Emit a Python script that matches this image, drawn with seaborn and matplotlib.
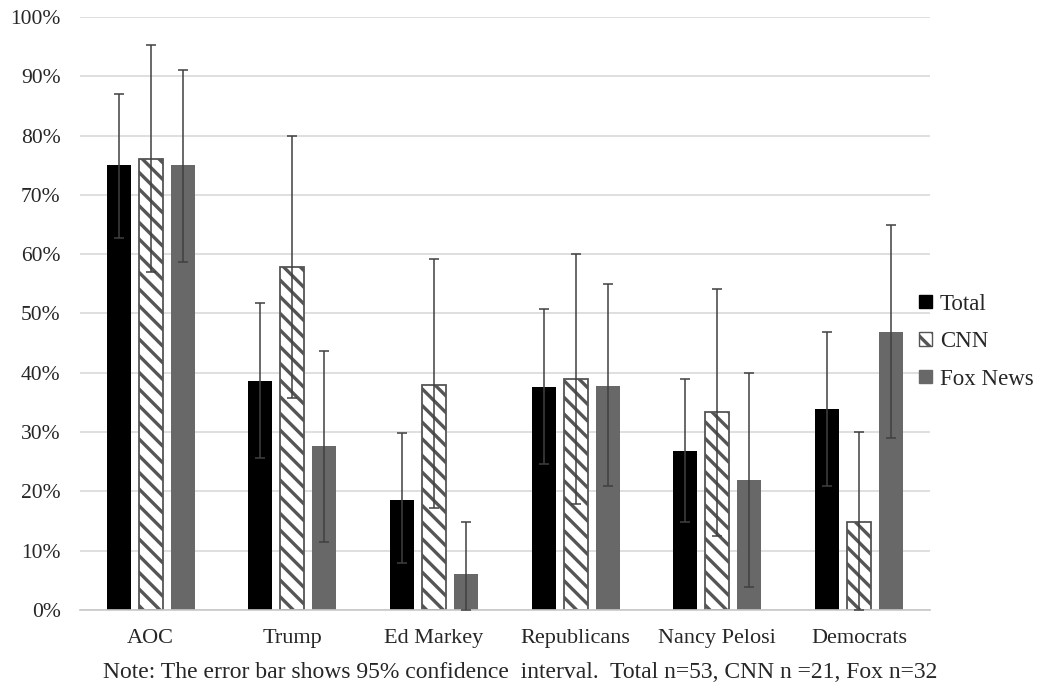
import matplotlib
matplotlib.use("Agg")
import matplotlib.pyplot as plt
import matplotlib.patches as mpatches
import numpy as np
import pandas as pd
import seaborn as sns

categories = ["AOC", "Trump", "Ed Markey", "Republicans", "Nancy Pelosi", "Democrats"]
series = ["Total", "CNN", "Fox News"]

total_vals = [75.0, 38.6, 18.6, 37.6, 26.8, 33.8]
cnn_vals = [76.0, 57.8, 38.0, 39.0, 33.3, 14.9]
fox_vals = [75.0, 27.6, 6.0, 37.8, 21.9, 46.8]

total_lo = [62.7, 25.7, 7.9, 24.6, 14.8, 20.9]
total_hi = [87.0, 51.7, 29.8, 50.8, 39.0, 46.9]
cnn_lo = [57.0, 35.7, 17.1, 17.8, 12.4, 0.0]
cnn_hi = [95.3, 80.0, 59.2, 60.0, 54.1, 30.0]
fox_lo = [58.7, 11.5, 0.0, 20.9, 3.8, 29.0]
fox_hi = [91.0, 43.7, 14.8, 55.0, 40.0, 65.0]

note = "Note: The error bar shows 95% confidence  interval.  Total n=53, CNN n =21, Fox n=32"

sns.set_theme(style="white")
plt.rcParams["font.family"] = ["Liberation Serif", "DejaVu Serif"]
plt.rcParams["hatch.linewidth"] = 2.4

df = pd.DataFrame({
    "category": categories * 3,
    "series": ["Total"] * 6 + ["CNN"] * 6 + ["Fox News"] * 6,
    "value": total_vals + cnn_vals + fox_vals,
})

colors = {"Total": "#000000", "CNN": "#ffffff", "Fox News": "#686868"}

fig = plt.figure(figsize=(10.41, 6.97), dpi=100)
ax = fig.add_axes([0.0768, 0.125, 0.8165, 0.8506])

sns.barplot(data=df, x="category", y="value", hue="series", order=categories,
            hue_order=series, palette=colors, width=0.678, gap=0.25,
            errorbar=None, ax=ax, legend=False, saturation=1)

los = [total_lo, cnn_lo, fox_lo]
his = [total_hi, cnn_hi, fox_hi]
vals = [total_vals, cnn_vals, fox_vals]
patches = ax.patches
for si, s in enumerate(series):
    for ci in range(len(categories)):
        p = patches[si * len(categories) + ci]
        p.set_linewidth(0)
        if s == "CNN":
            p.set_hatch("\\\\")
            p.set_edgecolor("#555555")
            p.set_linewidth(1.3)
        xc = p.get_x() + p.get_width() / 2
        v = vals[si][ci]
        ax.errorbar(xc, v, yerr=[[v - los[si][ci]], [his[si][ci] - v]],
                    fmt="none", ecolor="#404040", elinewidth=1.1,
                    capsize=3.8, capthick=1.1, zorder=5, clip_on=False)

ax.set_xlim(-0.5, 5.5)
ax.set_ylim(0, 100)
ax.set_yticks(np.arange(0, 101, 10))
ax.set_yticklabels([f"{t}%" for t in range(0, 101, 10)], fontsize=15.5)
ax.set_xticklabels(categories, fontsize=16)
ax.tick_params(axis="x", pad=14, length=0)
ax.tick_params(axis="y", pad=14, length=0)
ax.set_xlabel("")
ax.set_ylabel("")
ax.yaxis.grid(True, color="#d9d9d9", linewidth=1.2)
ax.set_axisbelow(True)
for sp in ["top", "right", "left"]:
    ax.spines[sp].set_visible(False)
ax.spines["bottom"].set_color("#c8c8c8")
ax.spines["bottom"].set_linewidth(1.2)

handles = [
    mpatches.Patch(facecolor="#000000", edgecolor="#000000", label="Total"),
    mpatches.Patch(facecolor="#ffffff", edgecolor="#555555", hatch="\\\\", label="CNN"),
    mpatches.Patch(facecolor="#686868", edgecolor="#686868", label="Fox News"),
]
fig.legend(handles=handles, loc="upper left", bbox_to_anchor=(0.874, 0.592),
           frameon=False, fontsize=16.5, handlelength=0.55, handleheight=0.55,
           handletextpad=0.35, labelspacing=0.72, borderaxespad=0)

fig.text(0.5, 0.035, note, ha="center", va="center", fontsize=17)

fig.savefig("out.png", dpi=100, facecolor="white")
